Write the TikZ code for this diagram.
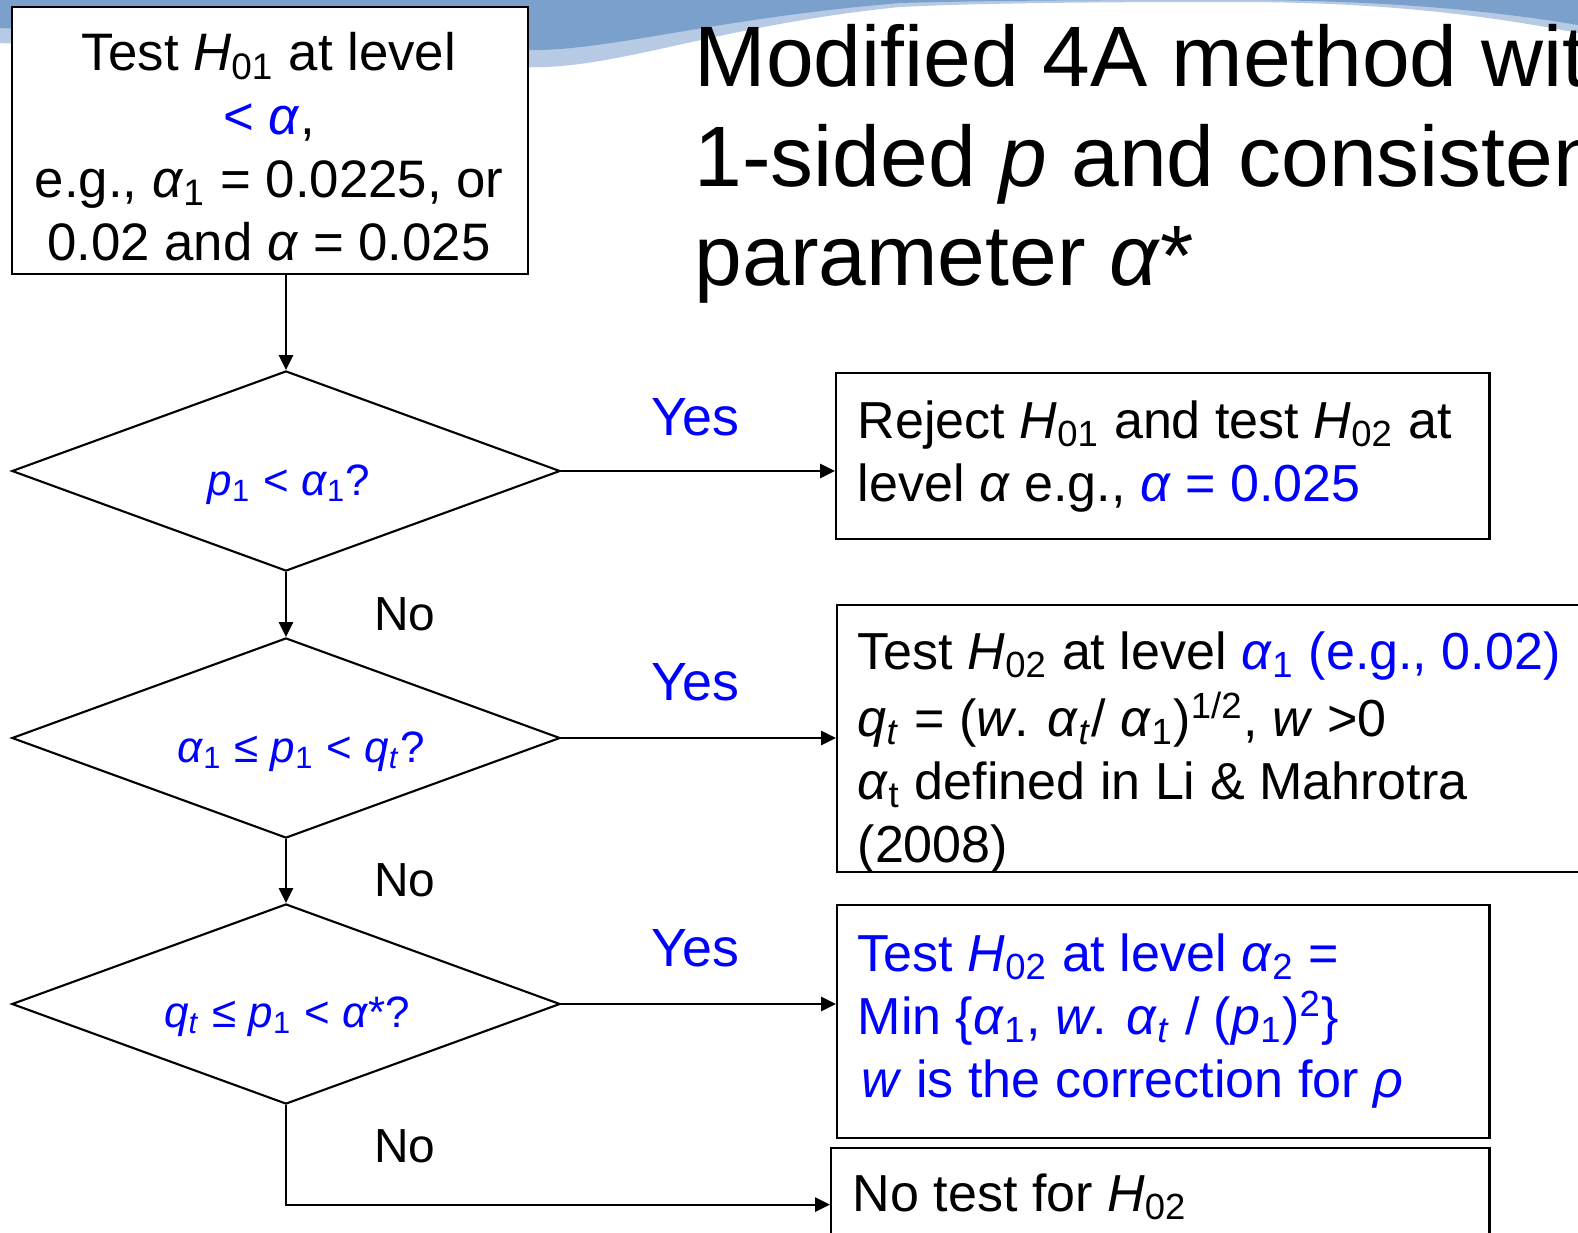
\documentclass[tikz,border=0pt]{standalone}
\usepackage{fontspec}
\setmainfont{Liberation Sans}
\usetikzlibrary{shapes.geometric,arrows.meta}
\definecolor{band}{RGB}{123,160,204}
\definecolor{bandlight}{RGB}{183,202,228}
\definecolor{qblue}{RGB}{0,0,255}
\newcommand\iv[1]{\textit{#1}}
\newcommand\sbs[1]{\textsubscript{#1}}
\newcommand\sps[1]{\textsuperscript{#1}}
\tikzset{
  boxshape/.style={draw=black, fill=white, line width=0.6pt, rectangle, inner sep=0pt, anchor=north west},
  dia/.style={draw=black, line width=0.6pt, shape=diamond, inner sep=0pt, minimum width=5.48cm, minimum height=2.0cm},
  arr/.style={draw=black, line width=0.6pt, -{Triangle[length=4.2pt,width=4pt]}},
  boxtext/.style={font=\fontsize{14.8}{17.9}\selectfont, inner sep=0pt, align=left, anchor=north west},
  qlbl/.style={font=\fontsize{12.5}{15}\selectfont, text=qblue, inner sep=0pt, anchor=base},
  yeslbl/.style={font=\fontsize{15.3}{17}\selectfont, text=qblue, inner sep=0pt, anchor=base},
  nolbl/.style={font=\fontsize{13.6}{16}\selectfont, text=black, inner sep=0pt, anchor=base},
}
\begin{document}
\begin{tikzpicture}[x=0.01cm,y=-0.01cm]
\useasboundingbox (0,0) rectangle (1578,1233);
\fill[white] (0,0) rectangle (1578,1233);
\begin{scope}
\clip (0,0) rectangle (1578,1233);
% banner
\fill[bandlight] (0,0) -- (0,43) .. controls (200,52) and (420,70) .. (545,67) .. controls (630,64) and (730,24) .. (900,7) .. controls (1000,2) and (1150,2) .. (1250,2) .. controls (1400,3) and (1500,18) .. (1578,33) -- (1578,0) -- cycle;
\fill[band] (0,0) -- (0,28) .. controls (200,36) and (420,52) .. (540,50) .. controls (620,48) and (720,18) .. (900,3) .. controls (1000,0) and (1150,0) .. (1250,0) .. controls (1400,1) and (1500,12) .. (1578,25) -- (1578,0) -- cycle;

% title
\node[font=\fontsize{24.4}{28.3}\selectfont, inner sep=0pt, align=left, anchor=north west] (title) at (694,16.4)
  {\strut Modified 4A method with\\ 1-sided \iv{p} and consistency\\ parameter \iv{α}*};

% top box
\node[boxshape, minimum width=5.16cm, minimum height=2.67cm] (top) at (11,6) {};
\node[font=\fontsize{15}{18}\selectfont, inner sep=0pt, align=center, anchor=north] (toptxt) at (269,25.7)
  {\strut Test \iv{H}\sbs{01} at level\\ \textcolor{qblue}{< \iv{α}},\\ e.g., \iv{α}\sbs{1} = 0.0225, or\\ 0.02 and \iv{α} = 0.025};

% diamonds
\node[dia] (d1) at (286,471) {};
\node[dia] (d2) at (286,738) {};
\node[dia] (d3) at (286,1004) {};
\node[qlbl] (q1) at (289,495) {\iv{p}\sbs{1} < \iv{α}\sbs{1}?};
\node[qlbl] (q2) at (301,762) {\iv{α}\sbs{1} ≤ \iv{p}\sbs{1} < \iv{q}\sbs{\iv{t}}?};
\node[qlbl] (q3) at (287,1027) {\iv{q}\sbs{\iv{t}} ≤ \iv{p}\sbs{1} < \iv{α}*?};

% right boxes
\node[boxshape, minimum width=6.53cm, minimum height=1.66cm] (r1) at (835,372) {};
\node[boxshape, minimum width=7.84cm, minimum height=2.67cm] (r2) at (836,604) {};
\node[boxshape, minimum width=6.52cm, minimum height=2.33cm] (r3) at (836,904) {};
\node[boxshape, minimum width=6.58cm, minimum height=1.13cm] (r4) at (830,1147) {};

\node[boxtext] (r1t) at (857,394)
  {\strut Reject \iv{H}\sbs{01} and test \iv{H}\sbs{02} at\\ level \iv{α} e.g., \textcolor{qblue}{\iv{α} = 0.025}};
\node[boxtext] (r2t) at (857,625)
  {\strut Test \iv{H}\sbs{02} at level \textcolor{qblue}{\iv{α}\sbs{1} (e.g., 0.02)}\\
   \iv{q}\sbs{\iv{t}} = (\iv{w}. \iv{α}\sbs{\iv{t}}/ \iv{α}\sbs{1})\sps{1/2}, \iv{w} >0\\
   \iv{α}\sbs{t} defined in Li \& Mahrotra\\ (2008)};
\node[boxtext, text=qblue] (r3t) at (857,927)
  {\strut Test \iv{H}\sbs{02} at level \iv{α}\sbs{2} =\\
   Min \{\iv{α}\sbs{1}, \iv{w}. \iv{α}\sbs{\iv{t}} / (\iv{p}\sbs{1})\sps{2}\}\\
   \hspace{1.1pt}\iv{w} is the correction for \iv{ρ}};
\node[boxtext] (r4t) at (852,1167) {\strut No test for \iv{H}\sbs{02}};

% labels
\node[yeslbl] (y1) at (695,435) {Yes};
\node[yeslbl] (y2) at (695,700) {Yes};
\node[yeslbl] (y3) at (695,966) {Yes};
\node[nolbl] (n1) at (405,630) {No};
\node[nolbl] (n2) at (405,896) {No};
\node[nolbl] (n3) at (405,1162) {No};

% connectors
\draw[arr] (top.south -| d1.north) -- (d1.north);
\draw[arr] (d1.south) -- (d2.north);
\draw[arr] (d2.south) -- (d3.north);
\draw[arr] (d1.east) -- (d1.east -| r1.west);
\draw[arr] (d2.east) -- (d2.east -| r2.west);
\draw[arr] (d3.east) -- (d3.east -| r3.west);
\draw[arr] (d3.south) |- (r4.west);
\end{scope}
\end{tikzpicture}
\end{document}
